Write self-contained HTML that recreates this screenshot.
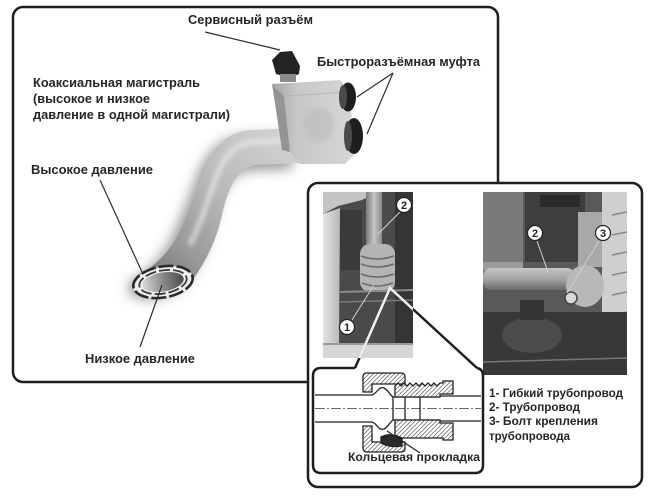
<!DOCTYPE html>
<html><head><meta charset="utf-8"><style>
html,body{margin:0;padding:0;background:#fff;}
svg{display:block;}
text{font-family:"Liberation Sans","DejaVu Sans",sans-serif;font-weight:bold;fill:#262626;}
</style></head><body>
<svg width="650" height="498" viewBox="0 0 650 498" xmlns="http://www.w3.org/2000/svg">
<defs>
  <filter id="blur6" x="-30%" y="-30%" width="160%" height="160%"><feGaussianBlur stdDeviation="6"/></filter>
  <filter id="blur2" x="-20%" y="-20%" width="140%" height="140%"><feGaussianBlur stdDeviation="2"/></filter>
  <linearGradient id="pg" x1="1" y1="0" x2="0" y2="1">
    <stop offset="0" stop-color="#d6d6d6"/>
    <stop offset="0.45" stop-color="#b9b9b9"/>
    <stop offset="0.75" stop-color="#979797"/>
    <stop offset="1" stop-color="#6c6c6c"/>
  </linearGradient>
  <linearGradient id="blk" x1="0" y1="0" x2="1" y2="0">
    <stop offset="0" stop-color="#a4a4a4"/>
    <stop offset="0.3" stop-color="#c8c8c8"/>
    <stop offset="1" stop-color="#d6d6d6"/>
  </linearGradient>
  <linearGradient id="inner" x1="0" y1="0" x2="1" y2="0">
    <stop offset="0" stop-color="#d8d8d8"/>
    <stop offset="0.5" stop-color="#8a8a8a"/>
    <stop offset="1" stop-color="#4a4a4a"/>
  </linearGradient>
  <linearGradient id="vp" x1="0" y1="0" x2="1" y2="0">
    <stop offset="0" stop-color="#7a7a7a"/>
    <stop offset="0.5" stop-color="#c6c6c6"/>
    <stop offset="1" stop-color="#8a8a8a"/>
  </linearGradient>
  <linearGradient id="hp" x1="0" y1="0" x2="0" y2="1">
    <stop offset="0" stop-color="#c4c4c4"/>
    <stop offset="0.5" stop-color="#a4a4a4"/>
    <stop offset="1" stop-color="#6a6a6a"/>
  </linearGradient>
  <linearGradient id="wall" x1="0" y1="0" x2="1" y2="0">
    <stop offset="0" stop-color="#e4e4e4"/>
    <stop offset="1" stop-color="#b8b8b8"/>
  </linearGradient>
  <pattern id="hatch" width="3" height="3" patternUnits="userSpaceOnUse" patternTransform="rotate(45)">
    <rect width="3" height="3" fill="#fff"/>
    <line x1="0" y1="0" x2="0" y2="3" stroke="#333" stroke-width="1.1"/>
  </pattern>
  <clipPath id="p1"><rect x="323" y="192" width="90" height="166"/></clipPath>
  <clipPath id="p2"><rect x="483" y="192" width="144" height="183"/></clipPath>
</defs>

<rect width="650" height="498" fill="#fff"/>

<!-- Box 1 -->
<rect x="13" y="7" width="485" height="375" rx="10" fill="#fff" stroke="#1e1e1e" stroke-width="2.5"/>

<!-- pipe shadow -->
<path d="M300,128 L250,130 C225,132 213,150 205,170 C197,190 185,225 172,245 C160,262 148,270 136,278 C132,292 160,302 190,282 C205,262 215,245 222,215 C228,190 235,170 255,165 L300,163 Z" fill="#7c7c7c" opacity="0.75" transform="translate(-8,6)" filter="url(#blur6)"/>

<!-- pipe body -->
<path d="M300,128 L250,130 C225,132 213,150 205,170 C197,190 185,225 172,245 C160,262 148,270 136,276 L190,284 C205,262 215,245 222,215 C228,190 235,170 255,165 L300,163 Z" fill="url(#pg)"/>
<path d="M295,140 L252,142 C232,145 222,160 215,180 C208,200 200,225 190,245" fill="none" stroke="#ebebeb" stroke-width="6" opacity="0.6" filter="url(#blur2)"/>

<!-- opening -->
<g transform="translate(163,282) rotate(-10)">
  <ellipse rx="30" ry="15.5" fill="#eeeeee" stroke="#2a2a2a" stroke-width="2.6" stroke-dasharray="15 3"/>
  <ellipse rx="24" ry="11.5" fill="none" stroke="#3a3a3a" stroke-width="1.8" stroke-dasharray="11 3"/>
  <ellipse rx="21" ry="9.5" fill="url(#inner)"/>
</g>

<!-- coupling block -->
<path d="M272,84 L340,80 L350,92 L354,155 L345,164 L300,164 L290,152 L284,96 Z" fill="url(#blk)"/>
<path d="M272,84 L284,96 L290,152 L282,150 L276,110 Z" fill="#949494"/>
<path d="M284,96 L350,92" stroke="#b5b5b5" stroke-width="1"/>
<ellipse cx="318" cy="125" rx="16" ry="18" fill="#bcbcbc" opacity="0.6" filter="url(#blur2)"/>

<!-- service connector -->
<path d="M276,74 L272,60 L280,52 L292,51 L300,66 L299,74 L290,78 Z" fill="#232323"/>
<rect x="280" y="74" width="16" height="8" fill="#8a8a8a"/>

<!-- quick couplings -->
<ellipse cx="348" cy="97" rx="8" ry="14.5" fill="#1e1e1e"/>
<ellipse cx="354" cy="136" rx="9" ry="18" fill="#1e1e1e"/>
<ellipse cx="343" cy="97" rx="4" ry="12" fill="#4a4a4a"/>
<ellipse cx="348" cy="136" rx="4" ry="15" fill="#4a4a4a"/>

<!-- leader lines box 1 -->
<g stroke="#2e2e2e" stroke-width="1.2" fill="none">
  <line x1="205" y1="32" x2="280" y2="50"/>
  <line x1="393" y1="73" x2="357" y2="97"/>
  <line x1="393" y1="73" x2="367" y2="134"/>
  <line x1="100" y1="180" x2="142" y2="272"/>
  <line x1="140" y1="347" x2="162" y2="285"/>
</g>

<!-- labels box 1 -->
<text x="188" y="24" font-size="12.5" textLength="125" lengthAdjust="spacingAndGlyphs">Сервисный разъём</text>
<text x="317" y="66" font-size="12.5" textLength="163" lengthAdjust="spacingAndGlyphs">Быстроразъёмная муфта</text>
<text x="33" y="87" font-size="12.5" textLength="167" lengthAdjust="spacingAndGlyphs">Коаксиальная магистраль</text>
<text x="33" y="103" font-size="12.5" textLength="117" lengthAdjust="spacingAndGlyphs">(высокое и низкое</text>
<text x="33" y="119" font-size="12.5" textLength="197" lengthAdjust="spacingAndGlyphs">давление в одной магистрали)</text>
<text x="31" y="174" font-size="12.5" textLength="122" lengthAdjust="spacingAndGlyphs">Высокое давление</text>
<text x="85" y="363" font-size="12.5" textLength="110" lengthAdjust="spacingAndGlyphs">Низкое давление</text>

<!-- Box 2 -->
<rect x="308" y="183" width="334" height="304" rx="10" fill="#fff" stroke="#1e1e1e" stroke-width="2.5"/>

<!-- Photo 1 -->
<g clip-path="url(#p1)">
  <rect x="323" y="192" width="90" height="166" fill="#4a4a4a"/>
  <polygon points="323,192 378,192 362,200 338,206 323,214" fill="#c4c4c4"/>
  <polygon points="323,214 340,208 339,346 323,346" fill="url(#wall)"/>
  <rect x="340" y="210" width="22" height="60" fill="#3a3a3a"/>
  <rect x="395" y="192" width="18" height="166" fill="#353535"/>
  <rect x="366" y="192" width="16" height="56" fill="url(#vp)"/>
  <rect x="360" y="244" width="35" height="48" rx="10" fill="#b4b4b4"/>
  <g stroke="#6a6a6a" stroke-width="1.5" fill="none">
    <path d="M361,256 Q377,262 394,256"/>
    <path d="M361,264 Q377,270 394,264"/>
    <path d="M361,274 Q377,280 394,274"/>
    <path d="M362,283 Q377,289 393,283"/>
  </g>
  <line x1="340" y1="292" x2="413" y2="290" stroke="#8a8a8a" stroke-width="2"/>
  <line x1="340" y1="302" x2="413" y2="300" stroke="#7a7a7a" stroke-width="1.5"/>
  <rect x="323" y="345" width="90" height="13" fill="#d6d6d6"/>
  <rect x="323" y="343" width="90" height="2" fill="#999"/>
</g>

<!-- Photo 2 -->
<g clip-path="url(#p2)">
  <rect x="483" y="192" width="144" height="183" fill="#595959"/>
  <rect x="483" y="192" width="40" height="80" fill="#7a7a7a"/>
  <rect x="525" y="192" width="60" height="70" fill="#3e3e3e"/>
  <rect x="540" y="195" width="40" height="12" fill="#2a2a2a"/>
  <rect x="578" y="212" width="26" height="55" fill="#a8a8a8"/>
  <rect x="602" y="192" width="25" height="150" fill="#cfcfcf"/>
  <g stroke="#888" stroke-width="1.5">
    <line x1="612" y1="215" x2="627" y2="212"/><line x1="612" y1="235" x2="627" y2="232"/>
    <line x1="612" y1="255" x2="627" y2="252"/><line x1="612" y1="275" x2="627" y2="272"/>
    <line x1="612" y1="295" x2="627" y2="292"/><line x1="612" y1="315" x2="627" y2="312"/>
  </g>
  <rect x="483" y="262" width="40" height="8" fill="#9a9a9a"/>
  <rect x="483" y="268" width="92" height="22" rx="8" fill="url(#hp)"/>
  <ellipse cx="585" cy="286" rx="19" ry="21" fill="#b8b8b8"/>
  <circle cx="571" cy="298" r="6" fill="#d8d8d8" stroke="#444" stroke-width="1.5"/>
  <rect x="483" y="312" width="144" height="63" fill="#383838"/>
  <ellipse cx="532" cy="335" rx="30" ry="18" fill="#4c4c4c"/>
  <rect x="520" y="300" width="24" height="20" fill="#333"/>
  <line x1="483" y1="362" x2="627" y2="358" stroke="#777" stroke-width="1.5"/>
</g>

<!-- numbered markers -->
<g stroke="#d0d0d0" stroke-width="1">
  <line x1="400" y1="212" x2="378" y2="234"/>
  <line x1="352" y1="320" x2="374" y2="285"/>
  <line x1="537" y1="241" x2="548" y2="272"/>
  <line x1="599" y1="241" x2="567" y2="293"/>
</g>
<g stroke="#222" stroke-width="1.2" fill="#fff">
  <circle cx="404" cy="205" r="7.5"/>
  <circle cx="347" cy="327" r="7.5"/>
  <circle cx="535" cy="233" r="7.5"/>
  <circle cx="603" cy="233" r="7.5"/>
</g>
<g font-size="11" text-anchor="middle">
  <text x="404" y="209">2</text>
  <text x="347" y="331">1</text>
  <text x="535" y="237">2</text>
  <text x="603" y="237">3</text>
</g>

<!-- inset box -->
<path d="M355,368 L321,368 Q313,368 313,376 L313,465 Q313,473 321,473 L475,473 Q483,473 483,465 L483,376 Q483,369 477,368" fill="#fff" stroke="#1e1e1e" stroke-width="2.5" stroke-linejoin="round"/>
<!-- callout lines -->
<path d="M355,368 L390,288 L477,368" fill="none" stroke="#1e1e1e" stroke-width="2.5" stroke-linejoin="round"/>
<g clip-path="url(#p1)">
  <path d="M355,368 L390,288 L477,368" fill="none" stroke="#f2f2f2" stroke-width="2.5"/>
</g>

<!-- cross-section -->
<g stroke="#222" stroke-width="1.3">
  <line x1="315" y1="395" x2="372" y2="395"/>
  <line x1="315" y1="422" x2="372" y2="422"/>
  <line x1="393" y1="397" x2="440" y2="397"/>
  <line x1="393" y1="420" x2="440" y2="420"/>
  <line x1="440" y1="396" x2="481" y2="396"/>
  <line x1="440" y1="421" x2="481" y2="421"/>
  <line x1="393" y1="397" x2="393" y2="420"/>
  <line x1="405" y1="397" x2="405" y2="420"/>
  <line x1="420" y1="397" x2="420" y2="420"/>
  <path d="M372,395 C378,393 378,386 384,388 C388,390 390,395 393,397" fill="none"/>
  <path d="M372,422 C378,424 378,431 384,429 C388,427 390,422 393,420" fill="none"/>
  <path d="M363,377 Q363,373 367,373 L401,373 Q405,373 405,377 L405,384 L372,384 L372,392 L363,392 Z" fill="url(#hatch)"/>
  <path d="M363,426 L372,426 L372,442 L405,442 L405,449 Q405,452 401,452 L367,452 Q363,452 363,448 Z" fill="url(#hatch)"/>
  <path d="M395,386 L398,383 L401,386 L404,383 L407,386 L410,383 L413,386 L416,383 L419,386 L422,383 L425,386 L428,383 L431,386 L434,383 L437,386 L440,383 L443,383 L443,381 L453,381 L453,394 L440,394 L440,397 L395,397 Z" fill="url(#hatch)"/>
  <path d="M395,420 L440,420 L440,423 L453,423 L453,440 L443,440 L443,438 L395,438 Z" fill="url(#hatch)"/>
  <path d="M381,437 Q390,432 402,438 L402,446 Q390,448 381,443 Z" fill="#2a2a2a"/>
</g>
<line x1="315" y1="408.5" x2="481" y2="408.5" stroke="#333" stroke-width="0.8" stroke-dasharray="10 2 2 2"/>
<line x1="420" y1="453" x2="387" y2="431" stroke="#222" stroke-width="1.2"/>

<text x="348" y="461" font-size="12" textLength="132" lengthAdjust="spacingAndGlyphs">Кольцевая прокладка</text>

<!-- legend -->
<g font-size="11.5">
  <text x="489" y="397" textLength="134" lengthAdjust="spacingAndGlyphs">1- Гибкий трубопровод</text>
  <text x="489" y="411" textLength="91" lengthAdjust="spacingAndGlyphs">2- Трубопровод</text>
  <text x="489" y="425" textLength="109" lengthAdjust="spacingAndGlyphs">3- Болт крепления</text>
  <text x="489" y="440" textLength="81" lengthAdjust="spacingAndGlyphs">трубопровода</text>
</g>
</svg>
</body></html>
